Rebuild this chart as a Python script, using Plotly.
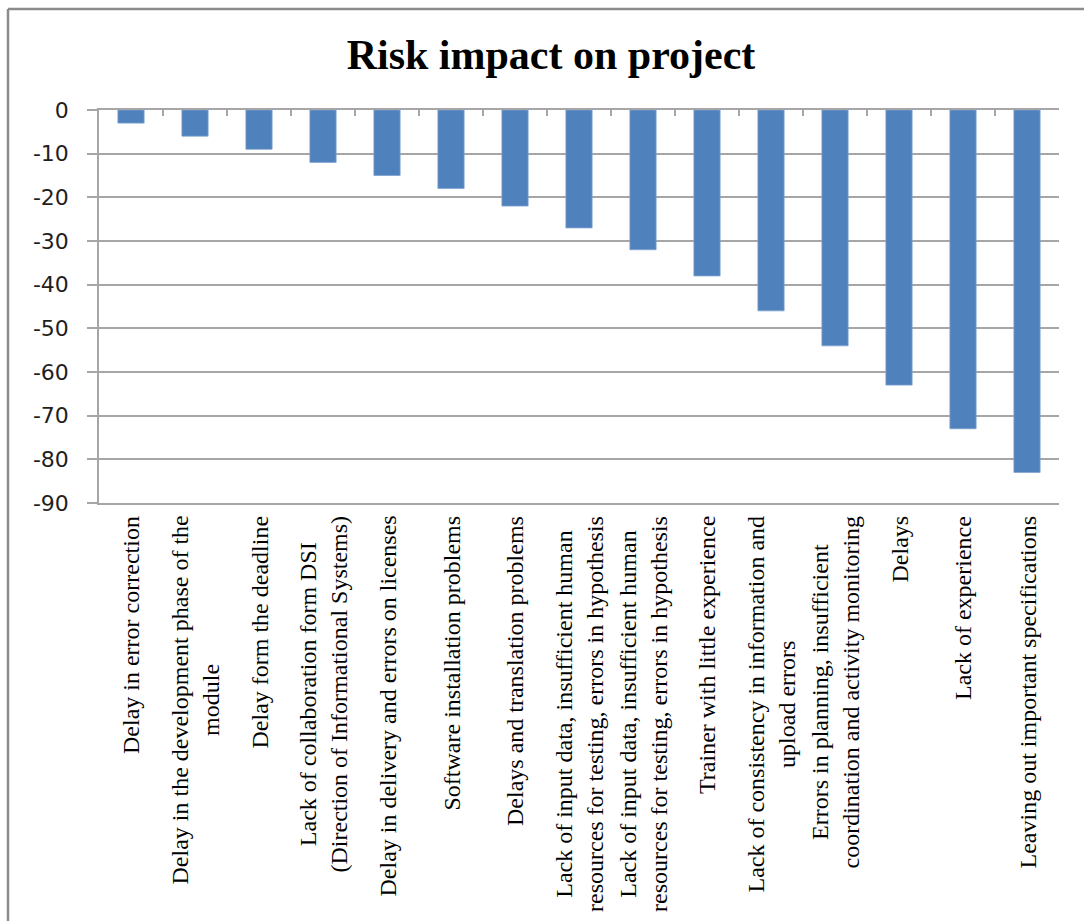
import plotly.graph_objects as go

# ---------------- data ----------------
categories = [
    "Delay in error correction",
    "Delay in the development phase of the<br>module",
    "Delay form the deadline",
    "Lack of collaboration form DSI<br>(Direction of Informational Systems)",
    "Delay in delivery and errors on licenses",
    "Software installation problems",
    "Delays and translation problems",
    "Lack of input data, insufficient human<br>resources for testing, errors in hypothesis",
    "Lack of input data, insufficient human<br>resources for testing, errors in hypothesis",
    "Trainer with little experience",
    "Lack of consistency in information and<br>upload errors",
    "Errors in planning, insufficient<br>coordination and activity monitoring",
    "Delays",
    "Lack of experience",
    "Leaving out important specifications",
]
impact = [-3, -6, -9, -12, -15, -18, -22, -27, -32, -38, -46, -54, -63, -73, -83]
y_ticks = [0, -10, -20, -30, -40, -50, -60, -70, -80, -90]
title_text = "Risk impact on project"

# ---------------- layout constants ----------------
W, H = 1084, 921
L, R, T, B = 99, 25, 110, 418
PW, PH = W - L - R, H - T - B
n = len(categories)
GRID = "#a6a6a6"
FRAME = "#8c8c8c"

def px_to_paper_x(px):
    return (px - L) / PW

def px_to_paper_y(py):
    return (H - B - py) / PH

idx = list(range(n))

fig = go.Figure()
fig.add_trace(go.Bar(
    x=idx, y=impact,
    marker=dict(color="#4F81BD", line=dict(color="#7FA3D1", width=0.8)),
    showlegend=False, hoverinfo="y",
))

# category labels (rotated, centred lines, anchored at the bottom of the plot)
annotations = []
for i, lab in enumerate(categories):
    annotations.append(dict(
        x=i, xref="x", y=0, yref="paper",
        text=lab, showarrow=False, textangle=-90,
        xanchor="center", yanchor="top", align="center",
        yshift=-11,
        font=dict(family="Liberation Serif, Times New Roman, serif", size=24, color="#000000"),
    ))

shapes = [
    # chart-area frame (top and left edges visible in the reference)
    dict(type="line", xref="paper", yref="paper",
         x0=px_to_paper_x(8), x1=px_to_paper_x(W + 10),
         y0=px_to_paper_y(9), y1=px_to_paper_y(9),
         line=dict(color=FRAME, width=2.5)),
    dict(type="line", xref="paper", yref="paper",
         x0=px_to_paper_x(8), x1=px_to_paper_x(8),
         y0=px_to_paper_y(9), y1=px_to_paper_y(H + 10),
         line=dict(color=FRAME, width=2.5)),
]

fig.update_layout(
    width=W, height=H,
    margin=dict(l=L, r=R, t=T, b=B),
    paper_bgcolor="white", plot_bgcolor="white",
    bargap=0.59,
    title=dict(
        text="<b>" + title_text + "</b>",
        x=px_to_paper_x(551), xanchor="center", xref="paper",
        y=1 - 54 / H, yanchor="middle", yref="container",
        font=dict(family="Liberation Serif, Times New Roman, serif", size=42, color="#000000"),
    ),
    xaxis=dict(
        range=[-0.5, n - 0.5],
        side="top",
        tickmode="array",
        tickvals=[k - 0.5 for k in range(n + 1)],
        ticks="inside", ticklen=6, tickwidth=1.5, tickcolor=GRID,
        showticklabels=False,
        showgrid=False, zeroline=False,
        showline=True, mirror=True, linecolor=GRID, linewidth=1.5,
    ),
    yaxis=dict(
        range=[min(y_ticks), max(y_ticks)],
        tickmode="array", tickvals=y_ticks,
        ticktext=[str(v) for v in y_ticks],
        ticks="outside", ticklen=10, tickwidth=1.5, tickcolor=GRID,
        ticklabelstandoff=14,
        showgrid=True, gridcolor=GRID, gridwidth=1.5,
        zeroline=False,
        showline=True, linecolor=GRID, linewidth=1.5,
        tickfont=dict(family="DejaVu Sans, sans-serif", size=22, color="#1f1f1f"),
    ),
    annotations=annotations,
    shapes=shapes,
)

fig.write_html("out.html")
